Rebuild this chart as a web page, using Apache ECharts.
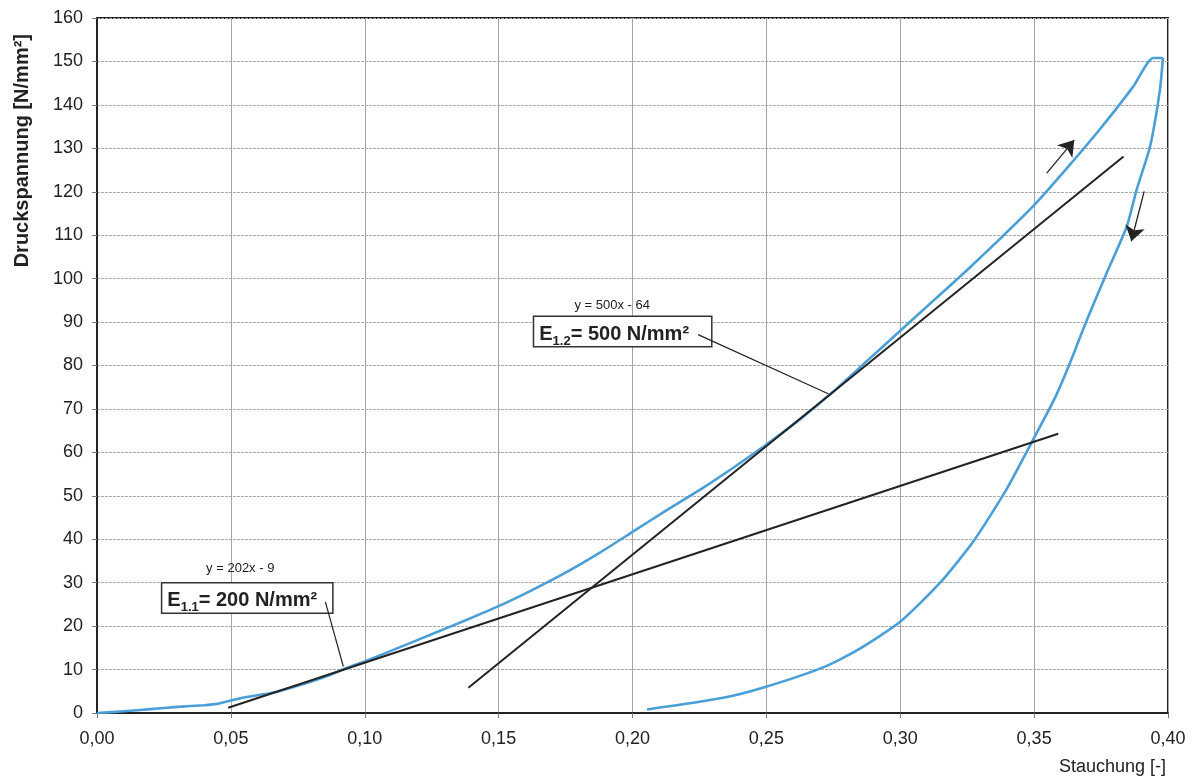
<!DOCTYPE html>
<html>
<head>
<meta charset="utf-8">
<script src="https://cdn.jsdelivr.net/npm/echarts@6/dist/echarts.min.js"></script>
<style>html,body{margin:0;padding:0;background:#fff}#c{width:1196px;height:780px}</style>
</head>
<body>
<div id="c"></div>
<script>
// ---- data ----
const xTicks = [0, 0.05, 0.10, 0.15, 0.20, 0.25, 0.30, 0.35, 0.40];
const yTicks = [0, 10, 20, 30, 40, 50, 60, 70, 80, 90, 100, 110, 120, 130, 140, 150, 160];

const loading = [
  [0, 0], [0.01, 0.4], [0.02, 0.9], [0.03, 1.4], [0.04, 1.8], [0.0448, 2.1],
  [0.05, 2.9], [0.056, 3.7], [0.065, 4.6], [0.075, 6.3], [0.085, 8.3],
  [0.0935, 10.4], [0.1002, 11.9], [0.1125, 15.0], [0.1245, 18.0], [0.1375, 21.3],
  [0.15, 24.6], [0.1625, 28.3], [0.175, 32.3], [0.1875, 36.8], [0.2003, 41.8],
  [0.2125, 46.6], [0.225, 51.3], [0.2375, 56.4], [0.25, 61.8], [0.2625, 67.6],
  [0.275, 74.0], [0.2875, 81.0], [0.30, 88.0], [0.3125, 95.0], [0.325, 102.0],
  [0.3375, 109.3], [0.35, 116.9], [0.3625, 125.6], [0.3747, 134.5], [0.387, 144.2],
  [0.3944, 150.8], [0.3981, 150.8]
];
const unloading = [
  [0.3981, 150.8], [0.3970, 143.5], [0.3933, 130.4], [0.3883, 120.5], [0.3846, 112.0],
  [0.3771, 101.3], [0.3697, 90.5], [0.3634, 80.6], [0.3575, 72.2], [0.3496, 62.9],
  [0.3398, 51.6], [0.3272, 39.4], [0.3149, 30.0], [0.3000, 21.0], [0.2838, 14.4],
  [0.2712, 10.5], [0.2502, 6.1], [0.2339, 3.5], [0.2054, 0.8]
];
const tangent11 = [[0.049, 1.2], [0.359, 64.3]];     // y = 202x - 9
const tangent12 = [[0.1387, 5.8], [0.3834, 128.1]];  // y = 500x - 64
const leader11 = [[0.0853, 25.6], [0.0920, 10.7]];
const leader12 = [[0.2245, 87.1], [0.2731, 73.5]];
const arrowUp = [[0.3547, 124.3], [0.3650, 131.9]];
const arrowDown = [[0.3911, 120.1], [0.3863, 108.6]];
const box11Pos = [0.0244, 26.5];
const box12Pos = [0.1633, 87.8];
const eq11Pos = [0.0535, 33.2];
const eq12Pos = [0.1924, 93.8];
const eq11Text = 'y = 202x - 9';
const eq12Text = 'y = 500x - 64';
const box11Text = ['E', '1.1', '= 200 N/mm²'];
const box12Text = ['E', '1.2', '= 500 N/mm²'];
const xName = 'Stauchung [-]';
const yName = 'Druckspannung [N/mm²]';

const BLUE = '#4a9fd9';
const DARK = '#232323';
const FONT = '"Liberation Sans", Arial, sans-serif';

const chart = echarts.init(document.getElementById('c'), null, {renderer: 'canvas'});

function boxLabel(parts, padRight) {
  return {
    show: true, position: 'right', distance: 0, color: '#222',
    formatter: '{b|' + parts[0] + '}{s|' + parts[1] + '}{b|' + parts[2] + '}',
    backgroundColor: '#fff', borderColor: '#333', borderWidth: 1.5,
    padding: [3, padRight, 2, 5],
    rich: {
      b: {fontFamily: FONT, fontWeight: 'bold', fontSize: 20, color: '#222', lineHeight: 24, verticalAlign: 'bottom'},
      s: {fontFamily: FONT, fontWeight: 'bold', fontSize: 13, color: '#222', lineHeight: 24, verticalAlign: 'bottom', padding: [0, 0, -4, 0]}
    }
  };
}

function lineSeries(data, color, width, z, smooth) {
  return {
    type: 'line', data: data, showSymbol: false, symbol: 'none',
    smooth: smooth || false,
    lineStyle: {color: color, width: width}, z: z, silent: true
  };
}

const option = {
  animation: false,
  backgroundColor: '#fff',
  grid: {left: 97, right: 28, top: 18, bottom: 67, show: true, borderColor: DARK, borderWidth: 2, backgroundColor: 'transparent'},
  xAxis: {
    type: 'value', min: xTicks[0], max: xTicks[xTicks.length - 1], interval: 0.05,
    axisLine: {show: true, lineStyle: {color: DARK, width: 2}},
    axisTick: {show: true, length: 5, lineStyle: {color: '#777'}},
    axisLabel: {fontFamily: FONT, fontSize: 18, color: '#222', margin: 17,
      formatter: v => v.toFixed(2).replace('.', ',')},
    splitLine: {show: true, lineStyle: {color: '#a5a5a5', width: 1}}
  },
  yAxis: {
    type: 'value', min: yTicks[0], max: yTicks[yTicks.length - 1], interval: 10,
    axisLine: {show: true, lineStyle: {color: DARK, width: 2}},
    axisTick: {show: true, length: 5, lineStyle: {color: '#777'}},
    axisLabel: {fontFamily: FONT, fontSize: 18, color: '#222', margin: 14},
    splitLine: {show: true, lineStyle: {color: '#ababab', width: 1, type: [3, 1]}}
  },
  graphic: [
    {type: 'text', left: 12, top: 34, rotation: Math.PI / 2,
      style: {text: yName, fontFamily: FONT, fontWeight: 'bold', fontSize: 20, fill: '#222'}},
    {type: 'text', right: 30, top: 758,
      style: {text: xName, fontFamily: FONT, fontSize: 18, fill: '#222'}}
  ],
  series: [
    lineSeries(loading, BLUE, 2.6, 3, 0.2),
    lineSeries(unloading, BLUE, 2.6, 3, 0.2),
    lineSeries(tangent11, DARK, 2, 4),
    lineSeries(tangent12, DARK, 2, 4),
    lineSeries(leader11, DARK, 1.2, 6),
    lineSeries(leader12, DARK, 1.2, 6),
    {
      type: 'line', data: [], silent: true, z: 6,
      markLine: {
        silent: true, animation: false,
        symbol: ['none', 'arrow'], symbolSize: 15,
        lineStyle: {color: DARK, width: 1.3, type: 'solid'},
        itemStyle: {color: DARK},
        label: {show: false},
        data: [
          [{coord: arrowUp[0]}, {coord: arrowUp[1]}],
          [{coord: arrowDown[0]}, {coord: arrowDown[1]}]
        ]
      }
    },
    {
      type: 'scatter', silent: true, z: 5, symbolSize: 0, itemStyle: {opacity: 1},
      data: [
        {value: box11Pos, label: boxLabel(box11Text, 15)},
        {value: box12Pos, label: boxLabel(box12Text, 22)}
      ]
    },
    {
      type: 'scatter', silent: true, z: 5, symbolSize: 0, itemStyle: {opacity: 1},
      label: {show: true, position: 'inside', fontFamily: FONT, fontSize: 13, color: '#222',
        formatter: p => p.data.t},
      data: [
        {value: eq11Pos, t: eq11Text},
        {value: eq12Pos, t: eq12Text}
      ]
    }
  ]
};
chart.setOption(option);
</script>
</body>
</html>
